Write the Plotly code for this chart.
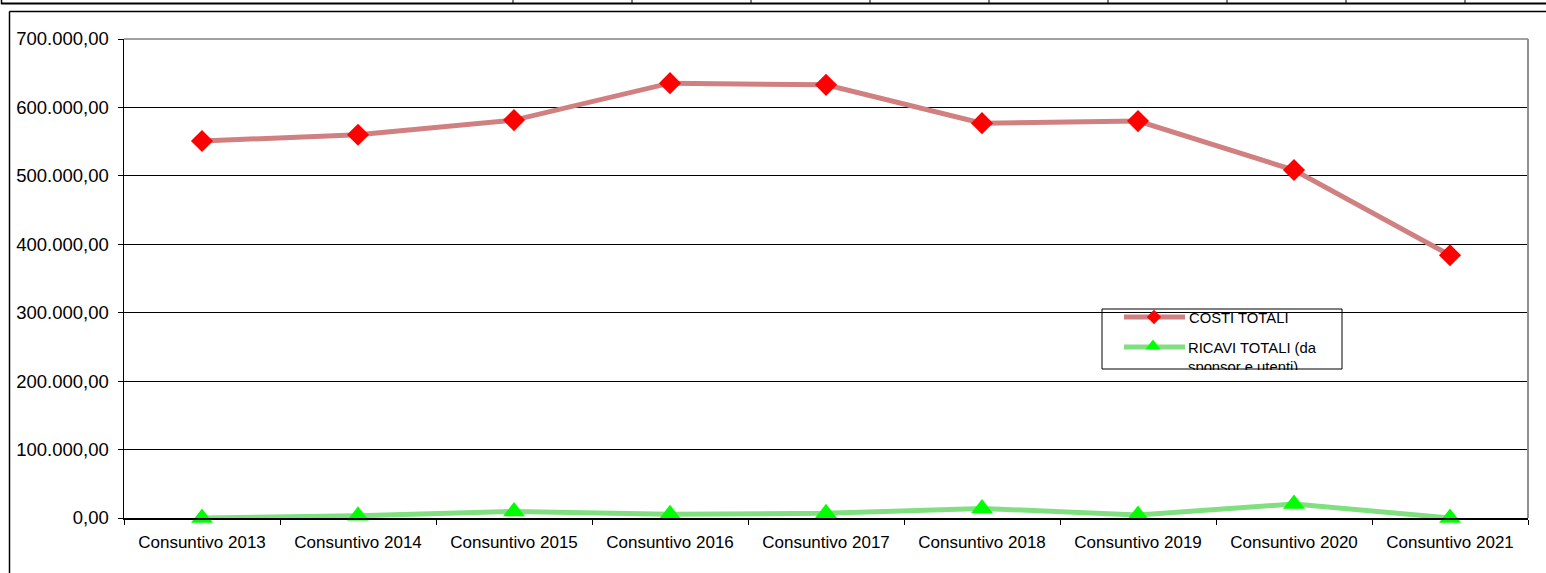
import plotly.graph_objects as go

categories = ["Consuntivo 2013", "Consuntivo 2014", "Consuntivo 2015", "Consuntivo 2016",
              "Consuntivo 2017", "Consuntivo 2018", "Consuntivo 2019", "Consuntivo 2020",
              "Consuntivo 2021"]
costi_totali = [551000, 560000, 581500, 635500, 633000, 577000, 580000, 508500, 384000]
ricavi_totali = [0, 3200, 9500, 5500, 6800, 14000, 4400, 20500, 0]
series_names = ["COSTI TOTALI", "RICAVI TOTALI (da<br>sponsor e utenti)"]
y_ticks = [0, 100000, 200000, 300000, 400000, 500000, 600000, 700000]

W, H = 1546, 573
L, R, T, B = 124, 18, 39, 55
PW, PH = W - L - R, H - T - B


def fx(px):
    return (px - L) / PW


def fy(py):
    return (H - B - py) / PH


FONT = "Liberation Sans, Arial, sans-serif"
COSTI_LINE = "#D08080"
RICAVI_LINE = "#80E080"

fig = go.Figure()
fig.add_trace(go.Scatter(
    x=categories, y=costi_totali, mode="lines+markers", name="COSTI TOTALI",
    line=dict(color=COSTI_LINE, width=5),
    marker=dict(symbol="diamond", size=17, color="#FF0000"),
    showlegend=False))
fig.add_trace(go.Scatter(
    x=categories, y=ricavi_totali, mode="lines+markers", name="RICAVI TOTALI",
    line=dict(color=RICAVI_LINE, width=5),
    marker=dict(symbol="triangle-up", size=19, color="#00FF00"),
    showlegend=False, cliponaxis=False))

shapes = []
# plot border (gray top / right)
shapes.append(dict(type="line", xref="paper", yref="paper", x0=0, x1=1, y0=1, y1=1,
                   line=dict(color="#808080", width=1.5), layer="above"))
shapes.append(dict(type="line", xref="paper", yref="paper", x0=1, x1=1, y0=0, y1=1,
                   line=dict(color="#909090", width=2), layer="above"))
# outer frame
shapes.append(dict(type="line", xref="paper", yref="paper", x0=fx(9.5), x1=fx(1560), y0=fy(11.5), y1=fy(11.5),
                   line=dict(color="black", width=1.5), layer="above"))
shapes.append(dict(type="line", xref="paper", yref="paper", x0=fx(9.5), x1=fx(9.5), y0=fy(11.5), y1=fy(600),
                   line=dict(color="black", width=1.5), layer="above"))
# cut-off table row at the top
shapes.append(dict(type="line", xref="paper", yref="paper", x0=fx(1), x1=fx(1560), y0=fy(3.5), y1=fy(3.5),
                   line=dict(color="black", width=2), layer="above"))
shapes.append(dict(type="line", xref="paper", yref="paper", x0=fx(1.5), x1=fx(1.5), y0=fy(-5), y1=fy(4),
                   line=dict(color="black", width=1.5), layer="above"))
for sx in [513, 632, 751, 870, 989, 1108, 1227, 1346, 1465]:
    shapes.append(dict(type="line", xref="paper", yref="paper", x0=fx(sx), x1=fx(sx), y0=fy(-5), y1=fy(4),
                       line=dict(color="black", width=1), layer="above"))
# legend box
shapes.append(dict(type="rect", xref="paper", yref="paper", x0=fx(1102), x1=fx(1342), y0=fy(369), y1=fy(309),
                   line=dict(color="black", width=1), fillcolor="white", layer="between"))
shapes.append(dict(type="line", xref="paper", yref="paper", x0=fx(1124), x1=fx(1185), y0=fy(317), y1=fy(317),
                   line=dict(color=COSTI_LINE, width=5), layer="between"))
shapes.append(dict(type="line", xref="paper", yref="paper", x0=fx(1124), x1=fx(1185), y0=fy(347), y1=fy(347),
                   line=dict(color=RICAVI_LINE, width=5), layer="between"))

# legend marker symbols (overlay axes in paper units)
fig.add_trace(go.Scatter(x=[fx(1154)], y=[fy(317)], xaxis="x2", yaxis="y2", mode="markers",
                         marker=dict(symbol="diamond", size=11, color="#FF0000"),
                         showlegend=False, hoverinfo="skip"))
fig.add_trace(go.Scatter(x=[fx(1153)], y=[fy(346)], xaxis="x2", yaxis="y2", mode="markers",
                         marker=dict(symbol="triangle-up", size=13, color="#00FF00"),
                         showlegend=False, hoverinfo="skip"))

annotations = [
    dict(text=series_names[0], xref="paper", yref="paper", x=fx(1187), y=fy(318),
         xanchor="left", yanchor="middle", showarrow=False, align="left",
         font=dict(family=FONT, size=14.8, color="black")),
    dict(text=series_names[1], xref="paper", yref="paper", x=fx(1187), y=fy(339),
         xanchor="left", yanchor="top", showarrow=False, align="left", valign="top",
         height=30, width=150, borderpad=0,
         font=dict(family=FONT, size=14.8, color="black")),
]

fig.update_layout(
    width=W, height=H, autosize=False,
    margin=dict(l=L, r=R, t=T, b=B, pad=0),
    paper_bgcolor="white", plot_bgcolor="white",
    separators=",.",
    font=dict(family=FONT, size=16, color="black"),
    shapes=shapes, annotations=annotations,
    hovermode=False,
    xaxis=dict(type="category", categoryorder="array", categoryarray=categories,
               range=[-0.5, len(categories) - 0.5],
               showline=True, linecolor="black", linewidth=1.5,
               ticks="outside", tickson="boundaries", ticklen=5, tickcolor="black",
               showgrid=False, zeroline=False, ticklabelstandoff=8,
               tickfont=dict(family=FONT, size=17, color="black")),
    yaxis=dict(range=[0, 700000], tickvals=y_ticks, tickformat=",.2f",
               showline=True, linecolor="black", linewidth=1.5,
               ticks="outside", ticklen=5, tickcolor="black",
               showgrid=True, gridcolor="black", gridwidth=1, zeroline=False,
               ticklabelstandoff=5,
               tickfont=dict(family=FONT, size=18.5, color="black")),
    xaxis2=dict(overlaying="x", range=[0, 1], visible=False, fixedrange=True),
    yaxis2=dict(overlaying="y", range=[0, 1], visible=False, fixedrange=True),
)

fig.write_html("out.html", config={"displayModeBar": False, "staticPlot": True},
               post_script="document.body.style.margin='0';document.body.style.overflow='hidden';")
